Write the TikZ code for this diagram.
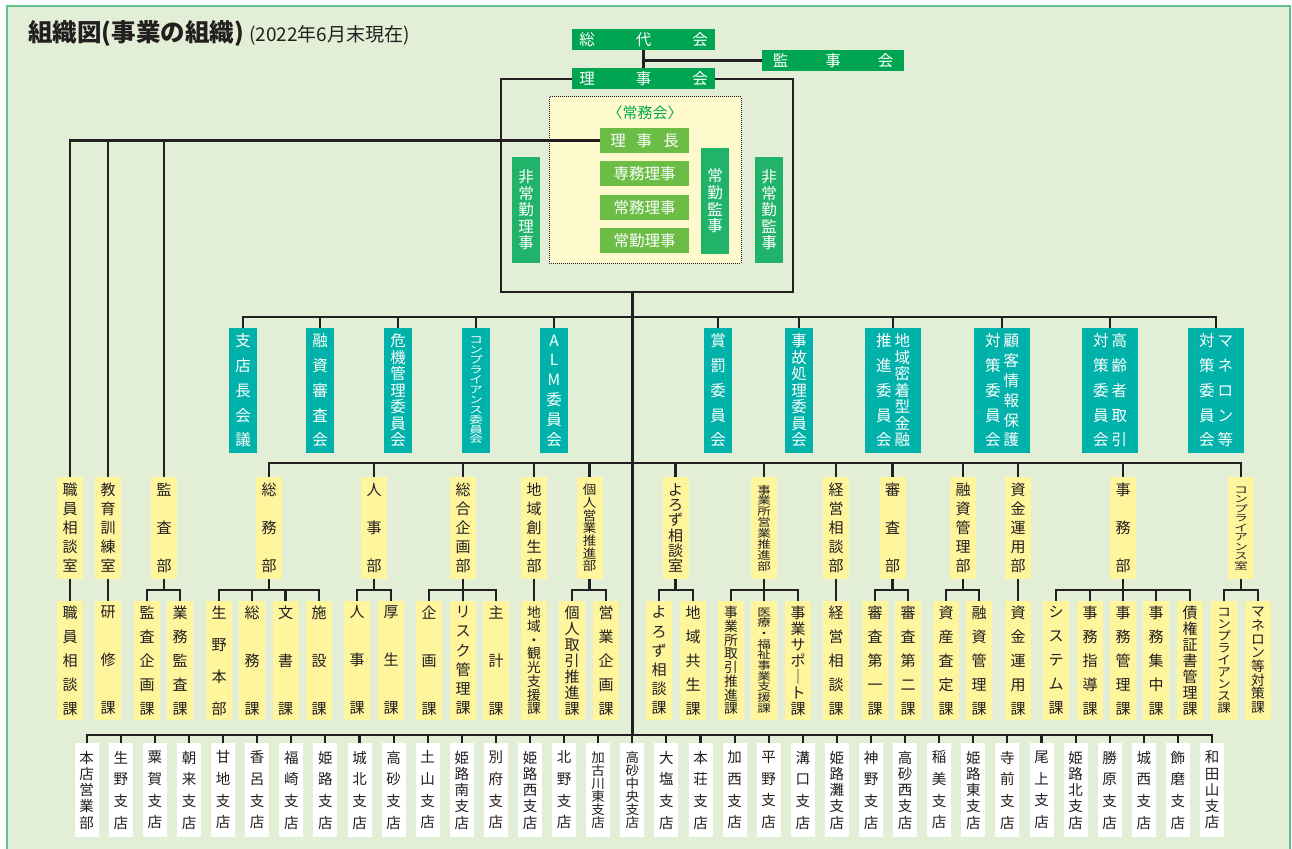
\documentclass[tikz,border=0pt]{standalone}
\usepackage{fontspec}
\setmainfont{Noto Sans CJK JP}
\definecolor{bgpale}{HTML}{E2EFD6}
\definecolor{edgegreen}{HTML}{62C38F}
\definecolor{darkgreen}{HTML}{00A551}
\definecolor{midgreen}{HTML}{22B36B}
\definecolor{leafgreen}{HTML}{6BBD45}
\definecolor{cteal}{HTML}{00B2AA}
\definecolor{paleyellow}{HTML}{FFF59D}
\definecolor{cream}{HTML}{FFFACD}
\definecolor{ink}{HTML}{231F20}
%% vertical text: \tate{max font size}{first-to-last baseline}{chars}
%% crowded labels keep a readable width and are squeezed in height
\makeatletter
\newcount\tate@n
\newdimen\tate@d
\newdimen\tate@s
\newdimen\tate@w
\newdimen\tate@r
\def\tate@loop#1{\@tfor\tate@c:=#1\do{\hbox to 1em{\hss\scalebox{1}[\tate@ratio]{\tate@c}\hss}}}
\newcommand\tate[3]{%
  \edef\tate@list{#3}%
  \tate@n=0
  \expandafter\@tfor\expandafter\tate@c\expandafter:\expandafter=\tate@list\do{\advance\tate@n by 1 }%
  \tate@d=#2\relax
  \ifnum\tate@n>1 \divide\tate@d by \numexpr\tate@n-1\relax\fi
  \tate@s=\tate@d
  \ifdim\tate@s>#1\relax\tate@s=#1\relax\fi
  \tate@w=\tate@s
  \ifdim\tate@w<13.5pt\relax\tate@w=13.5pt\relax\fi
  \ifdim\tate@w>#1\relax\tate@w=#1\relax\fi
  \tate@r=\dimexpr\tate@s*65536/\number\tate@w\relax
  \edef\tate@ratio{\strip@pt\tate@r}%
  \fontsize{\the\tate@w}{\the\tate@w}\selectfont
  \vbox{\baselineskip=\tate@d\lineskiplimit=-\maxdimen\lineskip=0pt
    \expandafter\tate@loop\expandafter{\tate@list}}}
\makeatother
\begin{document}
\begin{tikzpicture}[x=1pt, y=-1pt,
    wire/.style={draw=ink, line width=2.1pt},
    topbox/.style={fill=darkgreen, text=white, minimum width=143pt, minimum height=21pt, inner sep=0pt, font=\fontsize{15.5}{15.5}\selectfont},
    jomu/.style={fill=leafgreen, text=white, minimum width=89pt, minimum height=25pt, inner sep=0pt, font=\fontsize{15.5}{15.5}\selectfont},
    kanbox/.style={fill=midgreen, text=white, minimum width=28pt, minimum height=106pt, inner sep=0pt},
    iinkai/.style={fill=cteal, text=white, minimum width=28pt, minimum height=125pt, inner sep=0pt},
    bu/.style={fill=paleyellow, text=ink, minimum width=26pt, minimum height=102pt, inner sep=0pt},
    ka/.style={fill=paleyellow, text=ink, minimum width=26pt, minimum height=119pt, inner sep=0pt},
    shiten/.style={fill=white, text=ink, minimum width=24pt, minimum height=94pt, inner sep=0pt}]
    \useasboundingbox (0,0) rectangle (1292,848);
    %% Background
    \fill[white] (0,0) rectangle (1292,848);
    \fill[bgpale] (6.7,6) rectangle (1290.3,850);
    \draw[edgegreen, line width=1.8pt] (6.7,850) -- (6.7,6) -- (1290.3,6) -- (1290.3,850);
    %% Title
    \node[anchor=base west, text=ink, inner sep=0pt, font=\fontsize{24.5}{24.5}\selectfont\bfseries] (title) at (28,42) {組織図(事業の組織)};
    \node[anchor=base west, text=ink, inner sep=0pt, font=\fontsize{19}{19}\selectfont] (asof) at ([xshift=5pt]title.base east) {(2022年6月末現在)};
    %% General meeting, auditors, board
    \node[topbox] (sodai) at (643.5,39.5) {総\hspace{41pt}代\hspace{41pt}会};
    \node[topbox, minimum width=142pt] (kanjikai) at (833,60.5) {監\hspace{37pt}事\hspace{37pt}会};
    \node[topbox] (rijikai) at (643.5,79) {理\hspace{41pt}事\hspace{41pt}会};
    \draw[wire] (sodai.south) -- (rijikai.north);
    \draw[wire] (kanjikai.west) -- (kanjikai.west -| sodai.south);
    \coordinate (frameSW) at (501,292);
    \coordinate (frameSE) at (793,292);
    \draw[wire] (rijikai.west) -| (frameSW) -- (frameSE) |- (rijikai.east);
    %% Executive committee
    \node[draw=ink, densely dotted, line width=1pt, fill=cream, minimum width=192pt, minimum height=166pt] (jomukai) at (645,180) {};
    \node[text=darkgreen, font=\fontsize{15}{15}\selectfont] (jomukaititle) at (645,113) {〈常務会〉};
    \node[jomu] (rijicho) at (644.5,140.5) {理\hspace{11pt}事\hspace{11pt}長};
    \node[jomu] (senmu) at (644.5,173.5) {専務理事};
    \node[jomu] (jomuriji) at (644.5,207.5) {常務理事};
    \node[jomu] (jokinriji) at (644.5,240.5) {常勤理事};
    \node[kanbox] (jokinkanji) at (715,201) {\tate{15.5pt}{50pt}{常勤監事}};
    \node[kanbox] (hijokinriji) at (526,210) {\tate{15.5pt}{66pt}{非常勤理事}};
    \node[kanbox] (hijokinkanji) at (769,210) {\tate{15.5pt}{66pt}{非常勤監事}};
    %% Buses
    \coordinate (trunk) at (632.5,292);
    \coordinate (cbus) at (0,317);
    \coordinate (dbus) at (0,463);
    \coordinate (sbus) at (0,590);
    \coordinate (bbus) at (0,735);
    \draw[wire] (trunk) -- (trunk |- bbus);
    %% Committees
    \foreach \cx/\clab [count=\ci] in {243/支店長会議, 320/融資審査会, 398/危機管理委員会, 476/コンプライアンス委員会, 554/ALM委員会, 718/賞罰委員会, 799/事故処理委員会} {
        \node[iinkai] (c\ci) at (\cx,390.5) {\tate{15.5pt}{99pt}{\clab}};
        \draw[wire] (c\ci.north) -- (c\ci.north |- cbus) -- (trunk |- cbus);
    }
    \foreach \cx/\cleft/\cright [count=\ci from 8] in {893/推進委員会/地域密着型金融, 1002/対策委員会/顧客情報保護, 1110/対策委員会/高齢者取引, 1216/対策委員会/マネロン等} {
        \node[iinkai, minimum width=56pt] (c\ci) at (\cx,390.5) {\tate{15.5pt}{99pt}{\cleft}\hspace{3pt}\tate{15.5pt}{99pt}{\cright}};
        \draw[wire] (c\ci.north) -- (c\ci.north |- cbus) -- (trunk |- cbus);
    }
    %% Departments and sections
    \foreach \dx/\dlab/\kalist [count=\di] in {
        70/職員相談室/{70/職員相談課},
        108/教育訓練室/{108/研修課},
        164/監査部/{147/監査企画課, 180/業務監査課},
        269/総務部/{219/生野本部, 252/総務課, 285.5/文書課, 319/施設課},
        374/人事部/{357/人事課, 391/厚生課},
        463/総合企画部/{429/企画課, 463/リスク管理課, 496/主計課},
        534/地域創生部/{534/地域・観光支援課},
        589.5/個人営業推進部/{572/個人取引推進課, 606/営業企画課},
        675.5/よろず相談室/{659/よろず相談課, 693/地域共生課},
        764/事業所営業推進部/{731/事業所取引推進課, 764/医療・福祉事業支援課, 798/事業サポ｜ト課},
        836/経営相談部/{836/経営相談課},
        892.5/審査部/{875/審査第一課, 908/審査第二課},
        963/融資管理部/{946/資産査定課, 979/融資管理課},
        1018/資金運用部/{1018/資金運用課},
        1123/事務部/{1056/システム課, 1090/事務指導課, 1123/事務管理課, 1156/事務集中課, 1190/債権証書管理課},
        1241/コンプライアンス室/{1224/コンプライアンス課, 1258/マネロン等対策課}} {
        \node[bu] (d\di) at (\dx,528) {\tate{15pt}{76pt}{\dlab}};
        \foreach \kx/\klab [count=\kj] in \kalist {
            \node[ka] (k\di-\kj) at (\kx,660.5) {\tate{15pt}{96pt}{\klab}};
            \draw[wire] (k\di-\kj.north) -- (k\di-\kj.north |- sbus) -- (d\di.south |- sbus) -- (d\di.south);
        }
    }
    \foreach \di in {1,2,3}
        \draw[wire] (d\di.north) -- (d\di.north |- rijicho.west) -- (rijicho.west);
    \foreach \di in {4,...,16}
        \draw[wire] (d\di.north) -- (d\di.north |- dbus) -- (trunk |- dbus);
    %% Branches
    \foreach \blab [count=\bi] in {本店営業部, 生野支店, 粟賀支店, 朝来支店, 甘地支店, 香呂支店, 福崎支店, 姫路支店, 城北支店, 高砂支店, 土山支店, 姫路南支店, 別府支店, 姫路西支店, 北野支店, 加古川東支店, 高砂中央支店, 大塩支店, 本荘支店, 加西支店, 平野支店, 溝口支店, 姫路灘支店, 神野支店, 高砂西支店, 稲美支店, 姫路東支店, 寺前支店, 尾上支店, 姫路北支店, 勝原支店, 城西支店, 飾磨支店, 和田山支店} {
        \node[shiten] (b\bi) at ({86.7+34.1*(\bi-1)},790) {\tate{14.5pt}{65pt}{\blab}};
        \draw[wire] (b\bi.north) -- (b\bi.north |- bbus) -- (trunk |- bbus);
    }
\end{tikzpicture}
\end{document}
